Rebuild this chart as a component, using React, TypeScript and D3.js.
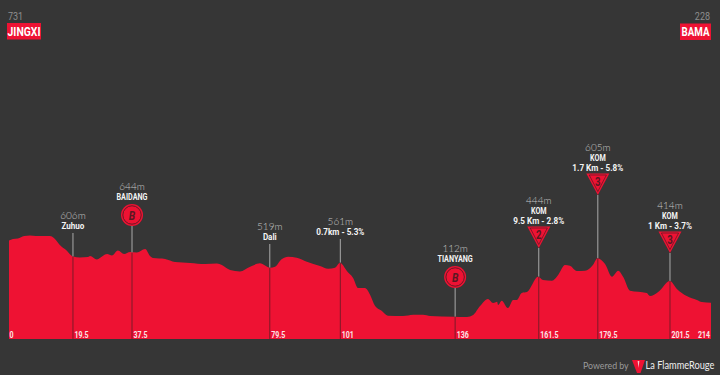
import React from "react";
import * as d3 from "d3";

const kmValues = [0,1.2,2.7,4.6,6.4,8.2,10.1,12.5,13.7,15.5,17.4,19.5,21.6,24.1,24.7,26.8,27.7,29.9,31.4,33.2,35.1,36.9,39,41.5,43,43.9,47.6,50.6,55.2,59.8,63.4,64.9,67.4,70.4,73.5,76.5,79.6,81.1,83.1,85.1,87.7,90.8,94.8,97.3,99.4,100.9,103,104.9,106.4,108.5,110.1,111.6,113.6,115.5,120.1,123.2,126.2,128.4,135.4,139.6,141.5,143.6,146,147.6,148.8,149.1,150.2,152.1,153.7,154.8,156.3,157.9,161.3,162.8,165.5,167.4,169.5,171,173.1,175.6,178,179.4,181.7,183.8,185.7,187.2,189.3,194.4,195.4,197.9,201.5,203.6,206.6,209.7,211.2,214];
const elevation = [753,767,771,792,797,792,792,792,775,716,673,618,610,614,622,593,605,639,627,669,639,656,652,682,622,605,597,571,563,554,559,546,503,491,531,560,523,531,594,616,608,574,537,514,523,565,495,435,350,350,291,197,157,115,112,123,123,112,106,104,121,197,257,223,234,206,242,180,248,248,308,316,446,418,412,461,546,540,495,497,546,603,554,446,497,446,327,308,282,316,410,342,282,248,231,225];

type Kind = "plain" | "sprint" | "kom";
const wayKm = [19.5,37.5,79.5,101,136,161.5,179.5,201.5];
const wayLabel = ["19.5","37.5","79.5","101","136","161.5","179.5","201.5"];
const wayElev = ["606m","644m","519m","561m","112m","444m","605m","414m"];
const wayName = ["Zuhuo","BAIDANG","Dali","","TIANYANG","KOM","KOM","KOM"];
const wayDetail = ["","","","0.7km - 5.3%","","9.5 Km - 2.8%","1.7 Km - 5.8%","1 Km - 3.7%"];
const wayKind: Kind[] = ["plain","sprint","plain","plain","sprint","kom","kom","kom"];
const wayCat = ["","B","","","B","2","3","3"];
const wayTop = [233,226,244,239,288,248,195,253];
const wayPeak = [618,652,523,565,106,446,603,410];

const W = 720, H = 375;
const x = d3.scaleLinear().domain([0, 214]).range([9, 711]);
const y = d3.scaleLinear().domain([0, 731]).range([329.2, 243.2]);
const BASE = -83;
const RED = "#ee1233";
const DARK = "#5a1822";
const COND = "'Roboto','Liberation Sans',sans-serif";
const LIGHT = "'Lato','Roboto',sans-serif";

function Squeezed(p: { x: number; y: number; sx: number; size: number; anchor?: string; fill: string; italic?: boolean; weight?: number; children: React.ReactNode }) {
  return (
    <text
      transform={`translate(${p.x},${p.y}) scale(${p.sx},1)`}
      textAnchor={p.anchor ?? "middle"}
      fontFamily={COND}
      fontWeight={p.weight ?? 700}
      fontStyle={p.italic ? "italic" : "normal"}
      fontSize={p.size}
      fill={p.fill}
    >{p.children}</text>
  );
}

export default function App() {
  const pts = kmValues.map((k, i) => [k, elevation[i]] as [number, number]);
  const area = d3.area<[number, number]>().x(d => x(d[0])).y0(y(BASE)).y1(d => y(d[1])).curve(d3.curveMonotoneX);
  const base = y(BASE);
  return (
    <svg width={W} height={H} viewBox={`0 0 ${W} ${H}`} style={{ position: "fixed", left: 0, top: 0, background: "#363636" }}>
      <path d={area(pts) ?? ""} fill={RED} />
      {wayKm.map((k, i) => {
        const px = x(k);
        const top = wayTop[i];
        const surface = y(wayPeak[i]);
        const kind = wayKind[i];
        const markerH = kind === "plain" ? 0 : kind === "sprint" ? 23 : 21;
        const baseY = top - markerH - (kind === "plain" ? 4 : 3);
        const rows: { t: string; cls: string }[] = [];
        if (wayDetail[i]) rows.unshift({ t: wayDetail[i], cls: "d" });
        if (wayName[i]) rows.unshift({ t: wayName[i], cls: wayName[i] === wayName[i].toUpperCase() ? "n" : "m" });
        rows.unshift({ t: wayElev[i], cls: "l" });
        return (
          <g key={i}>
            <line x1={px} x2={px} y1={top} y2={surface} stroke="#a9a9a9" strokeWidth={1} />
            <line x1={px} x2={px} y1={surface} y2={base} stroke="#7d1a28" strokeWidth={1} />
            {kind === "sprint" && (
              <g>
                <circle cx={px} cy={top - 11} r={11} fill={RED} />
                <circle cx={px} cy={top - 11} r={9.2} fill="none" stroke={DARK} strokeWidth={0.9} />
                <Squeezed x={px} y={top - 6.3} sx={0.8} size={13} italic fill={DARK}>{wayCat[i]}</Squeezed>
              </g>
            )}
            {kind === "kom" && (
              <g>
                <path d={d3.line()([[px - 11.5, top - 21.5], [px + 11.5, top - 21.5], [px, top]]) + "Z"} fill={RED} />
                <path d={d3.line()([[px - 8.6, top - 20], [px + 8.6, top - 20], [px, top - 3.5]]) + "Z"} fill="none" stroke={DARK} strokeWidth={0.7} />
                <Squeezed x={px} y={top - 9.5} sx={0.8} size={12} fill={DARK}>{wayCat[i]}</Squeezed>
              </g>
            )}
            {rows.map((r, j) => {
              const ry = baseY - (rows.length - 1 - j) * 9.8;
              if (r.cls === "l") {
                return <text key={j} x={px} y={ry} textAnchor="middle" fontFamily={LIGHT} fontWeight={300} fontSize={10} fill="#c4c4c4">{r.t}</text>;
              }
              const sx = r.cls === "n" ? 0.76 : r.cls === "d" ? 0.86 : 0.85;
              return <Squeezed key={j} x={px} y={ry} sx={sx} size={9.5} fill="#f4f4f4">{r.t}</Squeezed>;
            })}
            <Squeezed x={px + 1.5} y={337.5} sx={0.78} size={9} anchor="start" fill="#fbe4e7">{wayLabel[i]}</Squeezed>
          </g>
        );
      })}
      <Squeezed x={x(0) + 0.5} y={337.5} sx={0.78} size={9} anchor="start" fill="#fbe4e7">0</Squeezed>
      <Squeezed x={x(214) - 1} y={337.5} sx={0.78} size={9} anchor="end" fill="#fbe4e7">214</Squeezed>

      <Squeezed x={8} y={20} sx={0.9} size={10} anchor="start" weight={400} fill="#8e8e8e">731</Squeezed>
      <rect x={7} y={23} width={34} height={16.5} fill={RED} />
      <Squeezed x={24} y={35.5} sx={0.8} size={13} fill="#fff">JINGXI</Squeezed>

      <Squeezed x={710} y={20} sx={0.9} size={10} anchor="end" weight={400} fill="#8e8e8e">228</Squeezed>
      <rect x={680} y={23.5} width={31} height={16.5} fill={RED} />
      <Squeezed x={695.5} y={36} sx={0.75} size={13} fill="#fff">BAMA</Squeezed>

      <text x={583} y={368.5} fontFamily={LIGHT} fontSize={8.8} fill="#9a9a9a">Powered by</text>
      <path d={d3.line()([[632, 360], [645, 360], [640.5, 373], [637, 373]]) + "Z"} fill={RED} />
      <path d={d3.line()([[637.6, 361], [639.4, 361], [638.5, 368]]) + "Z"} fill="#f0c8ce" />
      <text transform="translate(645.5,369) scale(0.88,1)" fontFamily={LIGHT} fontSize={10.5} fill="#eeeeee">La FlammeRouge</text>
    </svg>
  );
}
